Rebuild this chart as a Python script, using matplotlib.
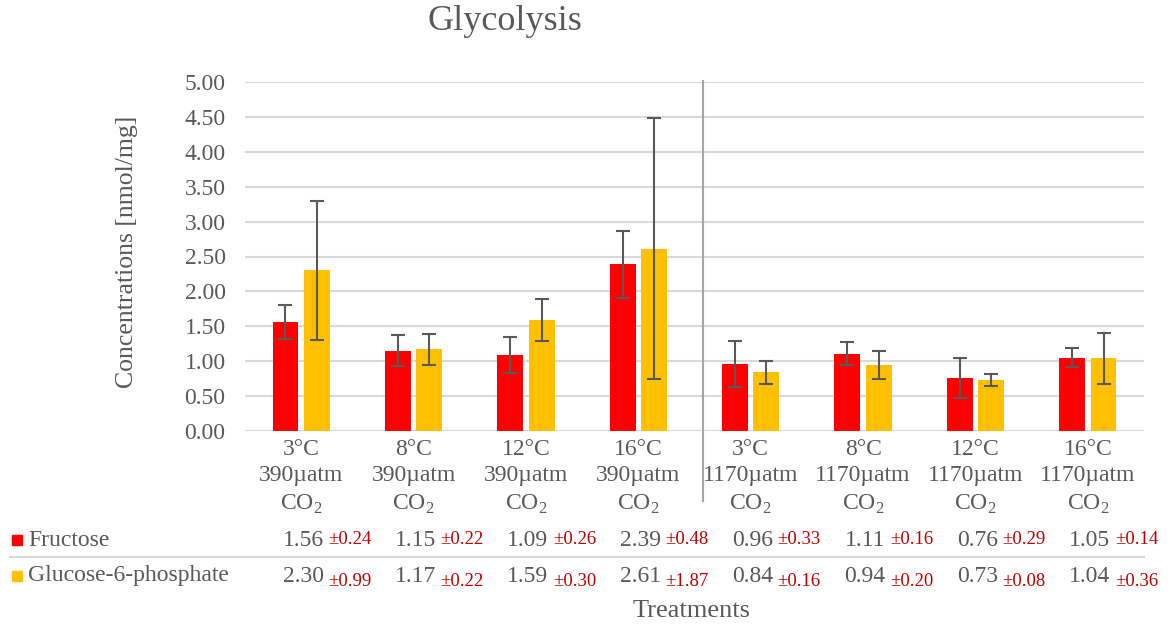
import numpy as np
import matplotlib
matplotlib.use("Agg")
import matplotlib.pyplot as plt
import matplotlib.transforms as mtransforms
from matplotlib.patches import Rectangle
from matplotlib.lines import Line2D

plt.rcParams['font.family'] = ['Liberation Serif', 'DejaVu Serif']
plt.rcParams['mathtext.fontset'] = 'custom'
plt.rcParams['mathtext.rm'] = 'Liberation Serif'

# Daten
temps = ["3°C", "8°C", "12°C", "16°C", "3°C", "8°C", "12°C", "16°C"]
co2 = ["390µatm", "390µatm", "390µatm", "390µatm",
       "1170µatm", "1170µatm", "1170µatm", "1170µatm"]
fructose = [1.56, 1.15, 1.09, 2.39, 0.96, 1.11, 0.76, 1.05]
fructose_sd = [0.24, 0.22, 0.26, 0.48, 0.33, 0.16, 0.29, 0.14]
g6p = [2.30, 1.17, 1.59, 2.61, 0.84, 0.94, 0.73, 1.04]
g6p_sd = [0.99, 0.22, 0.30, 1.87, 0.16, 0.20, 0.08, 0.36]
series = ["Fructose", "Glucose-6-phosphate"]
colors = ["#FF0000", "#FFC000"]

grey = "#595959"
W, H = 1170, 625

fig = plt.figure(figsize=(W / 100, H / 100), dpi=100)
ax = fig.add_axes([245 / W, 1 - 431 / H, (1144 - 245) / W, (431 - 82) / H])

x = np.arange(len(temps))
bw = 0.23
off = 0.14
err_kw = dict(ecolor=grey, elinewidth=1.5, capsize=5, capthick=1.5)
ax.bar(x - off, fructose, bw, color=colors[0], yerr=fructose_sd, error_kw=err_kw, zorder=3)
ax.bar(x + off, g6p, bw, color=colors[1], yerr=g6p_sd, error_kw=err_kw, zorder=3)

ax.set_xlim(-0.5, len(temps) - 0.5)
ax.set_ylim(0, 5)
ax.set_yticks(np.arange(0, 5.01, 0.5))
ax.set_yticklabels([f"{v:.2f}" for v in np.arange(0, 5.01, 0.5)])
ax.yaxis.grid(True, color="#D9D9D9", linewidth=1.5)
ax.set_axisbelow(True)
for s in ax.spines.values():
    s.set_visible(False)
ax.tick_params(axis="y", length=0, pad=14, labelsize=17, labelcolor=grey)
ax.tick_params(axis="x", length=0, pad=5.5, labelsize=17, labelcolor=grey)
ax.set_xticks(x)
ax.set_xticklabels([f"{t}\n{c}\nCO$_\\mathregular{{2}}$" for t, c in zip(temps, co2)],
                   linespacing=1.36)

# Trennlinie zwischen den CO2-Stufen
ax.add_line(Line2D([3.58, 3.58], [1.003, -0.2], transform=mtransforms.blended_transform_factory(ax.transData, ax.transAxes),
                   color="#A6A6A6", linewidth=1.5, clip_on=False))

fig.text(505 / W, 1 - 22 / H, "Glycolysis", fontsize=26, color=grey, ha="center", va="center")
fig.text(127 / W, 1 - 252 / H, "Concentrations [nmol/mg]", fontsize=18.5, color=grey,
         rotation=90, ha="center", va="center")
fig.text(692 / W, 1 - 611 / H, "Treatments", fontsize=19, color=grey, ha="center", va="center")

# Datentabelle unter der Achse
trans = mtransforms.blended_transform_factory(ax.transData, fig.transFigure)
rows_y = [540, 576]
for (name, col, vals, sds, ry) in zip(series, colors, [fructose, g6p], [fructose_sd, g6p_sd], rows_y):
    fig.patches.append(Rectangle((12 / W, 1 - (ry + 5) / H), 10 / W, 10 / H,
                                 transform=fig.transFigure, color=col))
    fig.text(28 / W, 1 - ry / H, name, fontsize=17, color=grey, ha="left", va="center")
    sd_shift = 0 if ry == rows_y[0] else 5
    for xi, v, sd in zip(x, vals, sds):
        ax.text(xi + 0.2, 1 - ry / H, f"{v:.2f}", transform=trans, fontsize=17,
                color=grey, ha="right", va="center")
        ax.text(xi + 0.24, 1 - (ry + sd_shift) / H, f"±{sd:.2f}", transform=trans,
                fontsize=13.5, color="#C00000", ha="left", va="center")

fig.add_artist(Line2D([10 / W, 1144 / W], [1 - 557 / H, 1 - 557 / H],
                      transform=fig.transFigure, color="#D9D9D9", linewidth=1.5))

fig.savefig("out.png", dpi=100)
